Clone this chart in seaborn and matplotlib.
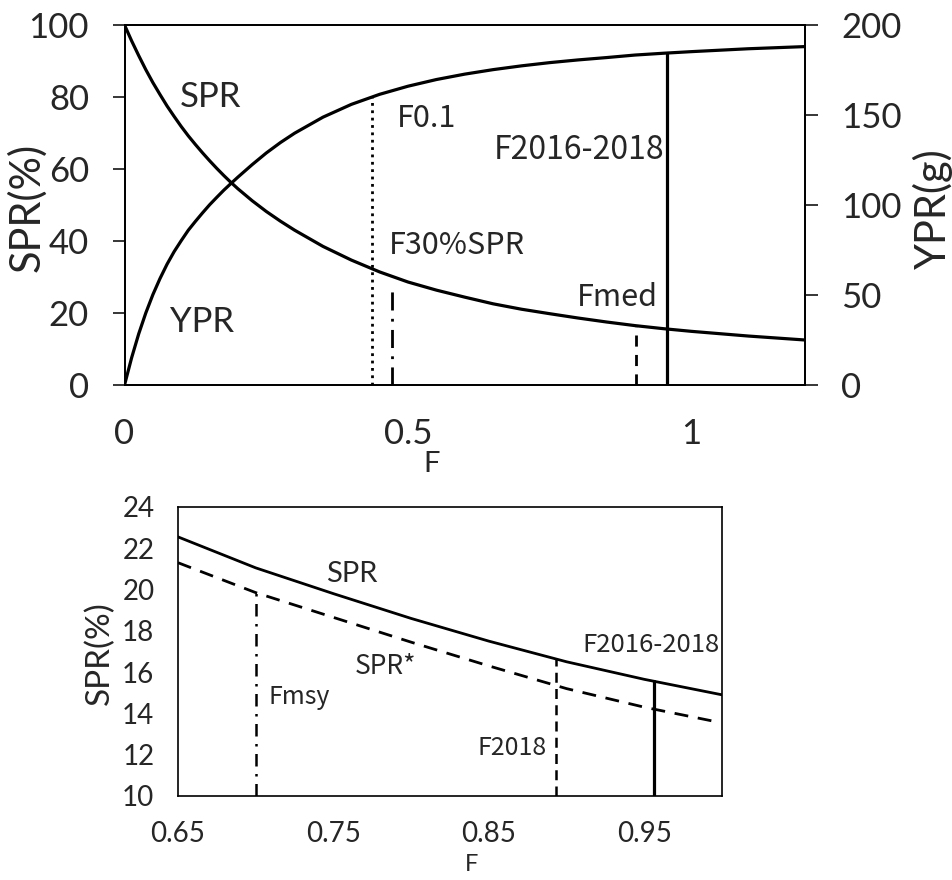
import numpy as np
import pandas as pd
import matplotlib
matplotlib.use("Agg")
import matplotlib.pyplot as plt
import seaborn as sns

sns.set_style("white")
plt.rcParams['font.family'] = ['Lato', 'DejaVu Sans']
JP = ['Noto Sans CJK JP', 'DejaVu Sans']

# fishing mortality grid and per-recruit curves
F = [0, 0.0125, 0.025, 0.0375, 0.05, 0.0625, 0.075, 0.0875, 0.1, 0.1125, 0.125,
     0.1375, 0.15, 0.1625, 0.175, 0.1875, 0.2, 0.225, 0.25, 0.275, 0.3, 0.35, 0.4,
     0.45, 0.5, 0.55, 0.6, 0.65, 0.7, 0.75, 0.8, 0.85, 0.9, 0.95, 1.0, 1.1, 1.2]
spr = [100, 95.6, 91.5, 87.6, 84, 80.7, 77.5, 74.6, 71.8, 69.2, 66.8,
       64.5, 62.3, 60.2, 58.2, 56.3, 54.5, 51.2, 48.2, 45.5, 43, 38.5, 34.7,
       31.4, 28.6, 26.35, 24.4, 22.55, 21.05, 19.8, 18.6, 17.5, 16.5, 15.65, 14.9, 13.6, 12.5]
ypr = [0, 15.1, 28.4, 40.0, 50.2, 59.1, 67.1, 74.1, 80.2, 86.0, 90.9,
       95.6, 100.1, 104.2, 108.2, 111.9, 115.5, 122.4, 128.9, 134.7, 139.9, 148.8, 155.9,
       161.5, 166, 169.7, 172.7, 175.2, 177.3, 179.1, 180.6, 181.9, 183.3, 184.3, 185.2, 186.8, 188]

# SPR* (lower panel, dashed)
F_star = [0.65, 0.7, 0.75, 0.8, 0.85, 0.9, 0.95, 0.996]
spr_star = [21.3, 19.85, 18.65, 17.45, 16.3, 15.2, 14.3, 13.6]

# reference points, upper panel
ref_names = ["F0.1", "F30%SPR", "Fmed", "F2016-2018"]
ref_F = [0.437, 0.472, 0.902, 0.956]
ref_top = [160.5, 27.5, 16.45, 184.4]
ref_axis = ["YPR", "SPR", "SPR", "YPR"]

# reference points, lower panel
ref2_names = ["Fmsy", "F2018", "F2016-2018"]
ref2_F = [0.70, 0.893, 0.956]
ref2_top = [19.85, 16.65, 15.56]

df = pd.DataFrame({"F": F, "SPR": spr, "YPR": ypr})
df_star = pd.DataFrame({"F": F_star, "SPR": spr_star})

fig = plt.figure(figsize=(9.52, 8.8), dpi=100)

# ---------- upper panel ----------
ax = fig.add_axes([0.1308, 0.5625, 0.7148, 0.4091])
ax2 = ax.twinx()
sns.lineplot(data=df, x="F", y="SPR", ax=ax, color="black", lw=2.3)
sns.lineplot(data=df, x="F", y="YPR", ax=ax2, color="black", lw=2.3)

styles = {"F0.1": dict(ls=":", lw=2.0),
          "F30%SPR": dict(ls=(0, (6.5, 3, 1, 3)), lw=2.0),
          "Fmed": dict(ls=(0, (4, 3)), lw=2.0),
          "F2016-2018": dict(ls="-", lw=2.3)}
for name, f, top, which in zip(ref_names, ref_F, ref_top, ref_axis):
    a = ax2 if which == "YPR" else ax
    a.plot([f, f], [0, top], color="black", **styles[name])

ax.set_xlim(0, 1.2)
ax.set_ylim(0, 100)
ax2.set_ylim(0, 200)
ax.set_xticks([0, 0.5, 1])
ax.set_xticklabels(["0", "0.5", "1"])
ax.set_yticks(range(0, 101, 20))
ax2.set_yticks(range(0, 201, 50))
ax.tick_params(axis="x", direction="out", length=8.5, width=1.3, labelsize=25, pad=15)
ax.tick_params(axis="y", direction="out", length=8.5, width=1.3, labelsize=25, pad=17)
ax2.tick_params(axis="y", direction="out", length=9, width=1.3, labelsize=25, pad=17)
ax.set_xlabel("F", fontsize=21)
ax.xaxis.set_label_coords(0.452, -0.183)
ax.set_ylabel("SPR(%)", fontsize=30)
ax.yaxis.set_label_coords(-0.115, 0.493)
ax2.set_ylabel("YPR(g)", fontsize=30)
ax2.yaxis.set_label_coords(1.159, 0.489)
for a in (ax, ax2):
    for s in a.spines.values():
        s.set_linewidth(1.3)
        s.set_color("black")

ax.text(0.098, 80, "SPR", fontsize=25, va="center", ha="left")
ax.text(0.08, 17.4, "YPR", fontsize=25, va="center", ha="left")
ax.text(0.48, 74, "F0.1", fontsize=22, va="center", ha="left", family=JP)
ax.text(0.467, 38.8, "F30%SPR", fontsize=22, va="center", ha="left", family=JP)
ax.text(0.952, 65.2, "F2016-2018", fontsize=23, va="center", ha="right", family=JP)
ax.text(0.941, 24.4, "Fmed", fontsize=22, va="center", ha="right", family=JP)

# ---------- lower panel ----------
bx = fig.add_axes([0.187, 0.0955, 0.5714, 0.3284])
sns.lineplot(data=df, x="F", y="SPR", ax=bx, color="black", lw=2.0)
sns.lineplot(data=df_star, x="F", y="SPR", ax=bx, color="black", lw=2.0,
             linestyle=(0, (5, 3.5)))

styles2 = {"Fmsy": dict(ls=(0, (5, 3, 1, 3)), lw=1.8),
           "F2018": dict(ls=(0, (4, 2.5)), lw=1.8),
           "F2016-2018": dict(ls="-", lw=2.3)}
for name, f, top in zip(ref2_names, ref2_F, ref2_top):
    bx.plot([f, f], [10, top], color="black", **styles2[name])

bx.set_xlim(0.65, 1.0)
bx.set_ylim(10, 24)
bx.set_xticks([0.65, 0.75, 0.85, 0.95])
bx.set_xticklabels(["0.65", "0.75", "0.85", "0.95"])
bx.set_yticks(range(10, 25, 2))
bx.tick_params(axis="x", direction="out", length=7, width=1.2, labelsize=20, pad=11)
bx.tick_params(axis="y", direction="out", length=7, width=1.2, labelsize=20, pad=10)
bx.set_xlabel("F", fontsize=17)
bx.xaxis.set_label_coords(0.54, -0.2)
bx.set_ylabel("SPR(%)", fontsize=24)
bx.yaxis.set_label_coords(-0.116, 0.495)
for s in bx.spines.values():
    s.set_linewidth(1.2)
    s.set_color("black")

bx.text(0.745, 20.76, "SPR", fontsize=21, va="center", ha="left")
bx.text(0.764, 16.26, "SPR*", fontsize=19, va="center", ha="left", family=JP)
bx.text(0.708, 14.8, "Fmsy", fontsize=18, va="center", ha="left", family=JP)
bx.text(0.887, 12.3, "F2018", fontsize=18, va="center", ha="right", family=JP)
bx.text(0.9986, 17.3, "F2016-2018", fontsize=18.5, va="center", ha="right", family=JP)

fig.savefig("out.png", dpi=100)
